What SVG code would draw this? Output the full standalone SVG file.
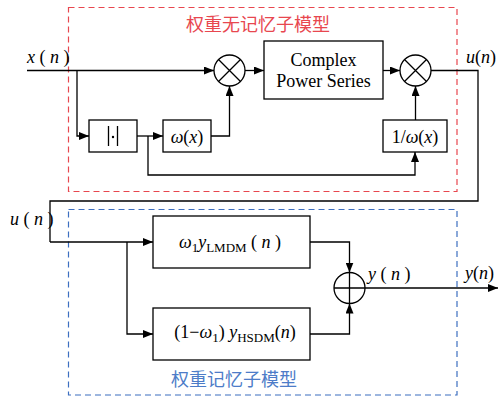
<svg xmlns="http://www.w3.org/2000/svg" width="499" height="398" viewBox="0 0 499 398">
<defs>
<marker id="ah" viewBox="0 0 10 8" refX="10" refY="4" markerWidth="10" markerHeight="8" markerUnits="userSpaceOnUse" orient="auto">
<path d="M0,0 L10,4 L0,8 Z" fill="#000"/>
</marker>
</defs>
<style>
.box{fill:#fff;stroke:#000;stroke-width:1.3}
.ln{fill:none;stroke:#000;stroke-width:1.3}
.ar{fill:none;stroke:#000;stroke-width:1.3;marker-end:url(#ah)}
text.t{font-family:'Liberation Serif','Times New Roman',serif;font-size:18px;fill:#000}
.i{font-style:italic}
text.cjk{font-family:'Noto Sans CJK SC',sans-serif;font-size:18px}
</style>
<rect x="68.5" y="7.5" width="388.5" height="184" fill="none" stroke="#e8474f" stroke-width="1.2" stroke-dasharray="6,4"/>
<rect x="68.5" y="209.5" width="388.5" height="185.5" fill="none" stroke="#3d6fc0" stroke-width="1.2" stroke-dasharray="6,4"/>
<text x="258" y="31" text-anchor="middle" class="cjk" fill="#e8474f">权重无记忆子模型</text>
<text x="234" y="386" text-anchor="middle" class="cjk" fill="#4d7cc8">权重记忆子模型</text>
<g id="connectors">
<path class="ar" d="M27,70.5 H214"/>
<path class="ar" d="M77,70.5 V136 H89"/>
<path class="ar" d="M137,136 H163"/>
<path class="ar" d="M211,136 H229.5 V86"/>
<path class="ar" d="M148,136 V175 H415 V152"/>
<path class="ar" d="M245,70.5 H264"/>
<path class="ar" d="M383,70.5 H400"/>
<path class="ar" d="M415.5,120 V86"/>
<path class="ln" d="M431,70.5 H478 V201 H50 V242"/>
<path class="ar" d="M50,242 H153"/>
<path class="ar" d="M127,242 V334 H153"/>
<path class="ar" d="M310,242 H349.5 V272.5"/>
<path class="ar" d="M310,334 H349.5 V303.5"/>
<path class="ar" d="M365,288 H498"/>
</g>
<g id="mul1">
<circle cx="229.5" cy="70.5" r="15.5" fill="#fff" stroke="#000" stroke-width="1.3"/>
<path class="ln" d="M218.5,59.5 L240.5,81.5 M240.5,59.5 L218.5,81.5"/>
</g>
<g id="mul2">
<circle cx="415.5" cy="70.5" r="15.5" fill="#fff" stroke="#000" stroke-width="1.3"/>
<path class="ln" d="M404.5,59.5 L426.5,81.5 M426.5,59.5 L404.5,81.5"/>
</g>
<g id="sum">
<circle cx="349.5" cy="288" r="15.5" fill="#fff" stroke="#000" stroke-width="1.3"/>
<path class="ln" d="M334,288 H365 M349.5,272.5 V303.5"/>
</g>
<g id="abs">
<rect class="box" x="89" y="120" width="48" height="32"/>
<path class="ln" d="M108.5,126 V146 M117.5,126 V146" stroke-width="1"/>
<circle cx="113" cy="137" r="1.2" fill="#000"/>
</g>
<g id="omega">
<rect class="box" x="163" y="120" width="48" height="32"/>
<text x="187" y="143" text-anchor="middle" class="t" font-family="Liberation Serif"><tspan class="i">ω</tspan>(<tspan class="i">x</tspan>)</text>
</g>
<g id="cps">
<rect class="box" x="264" y="41" width="119" height="58"/>
<text x="323.5" y="66" text-anchor="middle" class="t" font-family="Liberation Serif">Complex</text>
<text x="323.5" y="87" text-anchor="middle" class="t" font-family="Liberation Serif">Power Series</text>
</g>
<g id="invomega">
<rect class="box" x="383" y="120" width="64" height="32"/>
<text x="415" y="143" text-anchor="middle" class="t" font-family="Liberation Serif">1/<tspan class="i">ω</tspan>(<tspan class="i">x</tspan>)</text>
</g>
<g id="lmdm">
<rect class="box" x="153" y="216" width="157" height="52"/>
<text x="230" y="248" text-anchor="middle" class="t" font-family="Liberation Serif"><tspan class="i">ω</tspan><tspan font-size="13" dy="4">1</tspan><tspan class="i" dy="-4">y</tspan><tspan font-size="13" dy="4">LMDM</tspan><tspan dy="-4"> ( </tspan><tspan class="i">n</tspan> )</text>
</g>
<g id="hsdm">
<rect class="box" x="153" y="308" width="157" height="52"/>
<text x="235" y="338" text-anchor="middle" class="t" font-family="Liberation Serif">(1−<tspan class="i">ω</tspan><tspan font-size="13" dy="4">1</tspan><tspan dy="-4">) </tspan><tspan class="i">y</tspan><tspan font-size="13" dy="4">HSDM</tspan><tspan dy="-4">(</tspan><tspan class="i">n</tspan>)</text>
</g>
<g id="labels">
<text x="27" y="63" class="t" font-family="Liberation Serif"><tspan class="i">x</tspan> ( <tspan class="i">n</tspan> )</text>
<text x="466" y="63" class="t" font-family="Liberation Serif"><tspan class="i">u</tspan>(<tspan class="i">n</tspan>)</text>
<text x="10" y="225" class="t" font-family="Liberation Serif"><tspan class="i">u</tspan> ( <tspan class="i">n</tspan> )</text>
<text x="368" y="280" class="t" font-family="Liberation Serif"><tspan class="i">y</tspan> ( <tspan class="i">n</tspan> )</text>
<text x="465" y="279" class="t" font-family="Liberation Serif"><tspan class="i">y</tspan>(<tspan class="i">n</tspan>)</text>
</g>
</svg>
